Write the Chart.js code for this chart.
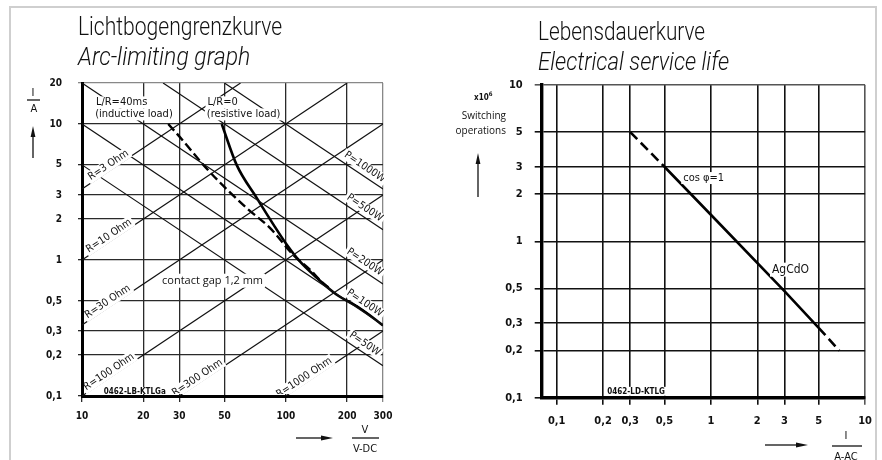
<!DOCTYPE html>
<html>
<head>
<meta charset="utf-8">
<title>Lichtbogengrenzkurve / Lebensdauerkurve</title>
<script src="https://cdn.jsdelivr.net/npm/chart.js@4.4.1/dist/chart.umd.min.js"></script>
<style>
  html, body { margin: 0; padding: 0; background: #fff; }
  #page { position: relative; width: 882px; height: 460px; overflow: hidden; color: #111;
          font-family: "DejaVu Sans Condensed", "Liberation Sans Narrow", sans-serif; }
  #frame { position: absolute; left: 9px; top: 6px; width: 868px; height: 480px;
           border: 2px solid #cfcfcf; box-sizing: border-box; }
  canvas { position: absolute; top: 0; }
  #arcChart { left: 0; }
  #lifeChart { left: 441px; }
  svg { position: absolute; left: 0; top: 0; }
  .title { position: absolute; font-family: Roboto, "Open Sans", sans-serif; font-weight: 300;
           font-size: 25px; line-height: 30px; white-space: nowrap; transform-origin: 0 0; }
  .title.it { font-style: italic; }
  .unit { position: absolute; transform: translate(-50%, -50%); white-space: nowrap; font-size: 11px; }
  .side { position: absolute; white-space: nowrap; font-family: "Open Sans", sans-serif; font-size: 10px; line-height: 12px; }
</style>
</head>
<body>
<div id="page">
  <div id="frame"></div>
  <canvas id="arcChart" width="441" height="460"></canvas>
  <canvas id="lifeChart" width="441" height="460"></canvas>

  <div class="title" data-w="204" style="left:78px; top:12px">Lichtbogengrenzkurve</div>
  <div class="title it" data-w="172" style="left:78px; top:42px">Arc-limiting graph</div>
  <div class="title" data-w="167" style="left:538px; top:17px">Lebensdauerkurve</div>
  <div class="title it" data-w="191" style="left:538px; top:47px">Electrical service life</div>

  <div class="unit" style="left:33px; top:92px">I</div>
  <div class="unit" style="left:34px; top:108px">A</div>
  <div class="unit" style="left:365px; top:429px">V</div>
  <div class="unit" style="left:365px; top:448px">V-DC</div>
  <div class="unit" style="left:846px; top:435px">I</div>
  <div class="unit" style="left:846px; top:456px">A-AC</div>

  <div class="side" style="left:474px; top:88px; font-family:'DejaVu Sans Condensed',sans-serif; font-weight:bold; font-size:8px">x10<sup style="font-size:6px">6</sup></div>
  <div class="side" style="right:376px; top:109px">Switching</div>
  <div class="side" style="right:376px; top:124px">operations</div>

  <svg width="882" height="460">
    <g stroke="#111" stroke-width="1.3" fill="#111">
      <line x1="27" y1="100" x2="40" y2="100"/>
      <line x1="33" y1="158" x2="33" y2="134"/>
      <polygon points="33,126 30.6,137 35.4,137" stroke="none"/>
      <line x1="478" y1="197" x2="478" y2="162"/>
      <polygon points="478,153 475.6,164 480.4,164" stroke="none"/>
      <line x1="352" y1="438" x2="379" y2="438"/>
      <line x1="296" y1="438" x2="322" y2="438"/>
      <polygon points="333,438 321,435.6 321,440.4" stroke="none"/>
      <line x1="832" y1="446" x2="862" y2="446"/>
      <line x1="765" y1="445" x2="797" y2="445"/>
      <polygon points="808,445 796,442.6 796,447.4" stroke="none"/>
    </g>
  </svg>
</div>

<script>
// ---- arc-limiting graph (left) ----
const voltTicks = [10, 20, 30, 50, 100, 200, 300];
const currentTicks = [0.1, 0.2, 0.3, 0.5, 1, 2, 3, 5, 10, 20];

// resistance lines: end points [V, I]
const rLabels = ['R=3 Ohm', 'R=10 Ohm', 'R=30 Ohm', 'R=100 Ohm', 'R=300 Ohm', 'R=1000 Ohm'];
const rFrom = [[10, 3.33], [10, 1], [10, 0.333], [10, 0.1], [30, 0.1], [100, 0.1]];
const rTo = [[60, 20], [200, 20], [300, 10], [300, 3], [300, 1], [300, 0.3]];
const rLabelAt = [13.9, 14, 13.8, 14, 38, 127];

// power lines
const pLabels = ['P=50W', 'P=100W', 'P=200W', 'P=500W', 'P=1000W'];
const pFrom = [[10, 5], [10, 10], [10, 20], [25, 20], [50, 20]];
const pTo = [[300, 0.167], [300, 0.333], [300, 0.667], [300, 1.667], [300, 3.33]];
const pLabelAt = [232, 232, 232, 232, 232];

// limit curves
const resistiveV = [48.5, 57.4, 72, 87, 101, 117, 142, 178, 231, 300];
const resistiveI = [10, 5, 2.86, 1.82, 1.3, 0.98, 0.74, 0.555, 0.443, 0.33];
const inductiveV = [26.5, 31.4, 39.4, 49.4, 64.4, 83.6, 108.8, 131.4, 150, 162];
const inductiveI = [10, 7.5, 5, 3.5, 2.4, 1.72, 1.09, 0.85, 0.69, 0.626];

// ---- electrical service life (right) ----
const lifeTicksX = [0.1, 0.2, 0.3, 0.5, 1, 2, 3, 5, 10];
const lifeTicksY = [0.1, 0.2, 0.3, 0.5, 1, 2, 3, 5, 10];
const lifeCurrent = [0.3, 0.5, 1, 3, 5, 6.8];
const lifeOps = [5, 3, 1.48, 0.48, 0.28, 0.2];

const condensed = '"DejaVu Sans Condensed", "Liberation Sans Narrow", sans-serif';
const fmt = v => String(v).replace('.', ',');
const toPoints = (xs, ys) => xs.map((x, i) => ({ x: x, y: ys[i] }));

// draws text on white boxes, optionally rotated along a straight line
const chartLabels = {
  id: 'chartLabels',
  afterDatasetsDraw(chart, args, opts) {
    const ctx = chart.ctx;
    const area = chart.chartArea;
    const xs = chart.scales.x, ys = chart.scales.y;
    const px = v => xs.getPixelForValue(v), py = v => ys.getPixelForValue(v);
    ctx.save();
    // keep the boxes off the thick axis lines
    ctx.beginPath();
    ctx.rect(area.left + 2, area.top, area.right - area.left - 1, area.bottom - area.top - 2);
    ctx.clip();
    for (const item of opts.items) {
      let x, y, angle = 0;
      if (item.line) {
        const a = item.line[0], b = item.line[1];
        const t = (Math.log(item.at) - Math.log(a[0])) / (Math.log(b[0]) - Math.log(a[0]));
        const i = Math.exp(Math.log(a[1]) + t * (Math.log(b[1]) - Math.log(a[1])));
        x = px(item.at);
        y = py(i);
        angle = Math.atan2(py(b[1]) - py(a[1]), px(b[0]) - px(a[0]));
      } else {
        x = px(item.at[0]);
        y = py(item.at[1]);
      }
      ctx.save();
      ctx.translate(x, y);
      ctx.rotate(angle);
      ctx.font = item.font;
      const w = ctx.measureText(item.text).width;
      const h = item.height || 12;
      const off = item.offset || 0;
      const left = item.align === 'left' ? 0 : -w / 2;
      ctx.fillStyle = '#fff';
      ctx.fillRect(left - 2, -off - h / 2, w + 4, h);
      ctx.fillStyle = '#111';
      ctx.textAlign = item.align || 'center';
      ctx.textBaseline = 'middle';
      ctx.fillText(item.text, 0, -off);
      ctx.restore();
    }
    ctx.restore();
  }
};

const lineFont = '11px ' + condensed;
const slopeFont = '10.5px ' + condensed;
const arcLabels = [];
rLabels.forEach((t, i) => arcLabels.push({ text: t, line: [rFrom[i], rTo[i]], at: rLabelAt[i], offset: 5, font: slopeFont }));
pLabels.forEach((t, i) => arcLabels.push({ text: t, line: [pFrom[i], pTo[i]], at: pLabelAt[i], offset: 8, height: 11, font: slopeFont }));
arcLabels.push(
  { text: 'L/R=40ms', at: [11.7, 14.4], align: 'left', font: lineFont },
  { text: '(inductive load)', at: [11.6, 11.75], align: 'left', font: lineFont },
  { text: 'L/R=0', at: [41.3, 14.4], align: 'left', font: lineFont },
  { text: '(resistive load)', at: [41, 11.75], align: 'left', font: lineFont },
  { text: 'contact gap 1,2 mm', at: [24.7, 0.704], align: 'left', height: 14, font: '11px "Open Sans", sans-serif' },
  { text: '0462-LB-KTLGa', at: [12.8, 0.108], align: 'left', height: 9, font: 'bold 8px ' + condensed }
);

const lineSet = (from, to) => ({
  data: [{ x: from[0], y: from[1] }, { x: to[0], y: to[1] }],
  showLine: true, borderColor: '#111', borderWidth: 1.2, pointRadius: 0
});

const arcDatasets = rFrom.map((f, i) => lineSet(f, rTo[i]))
  .concat(pFrom.map((f, i) => lineSet(f, pTo[i])));
arcDatasets.push({
  label: 'L/R=0', data: toPoints(resistiveV, resistiveI), showLine: true,
  borderColor: '#000', borderWidth: 2.6, pointRadius: 0, cubicInterpolationMode: 'monotone'
});
arcDatasets.push({
  label: 'L/R=40ms', data: toPoints(inductiveV, inductiveI), showLine: true, borderDash: [9, 4],
  borderColor: '#000', borderWidth: 2.4, pointRadius: 0, cubicInterpolationMode: 'monotone'
});

const arcTickFont = { family: condensed, size: 10, weight: 'bold' };
new Chart(document.getElementById('arcChart'), {
  type: 'scatter',
  data: { datasets: arcDatasets },
  options: {
    responsive: false,
    animation: false,
    devicePixelRatio: 1,
    layout: { padding: { left: 12, right: 58, top: 83, bottom: 34 } },
    plugins: { legend: { display: false }, tooltip: { enabled: false }, chartLabels: { items: arcLabels } },
    scales: {
      x: {
        type: 'logarithmic', min: 10, max: 300, bounds: 'data',
        afterBuildTicks: axis => { axis.ticks = voltTicks.map(v => ({ value: v })); },
        afterFit: axis => { axis.height = 30; },
        ticks: { autoSkip: false, maxRotation: 0, padding: 8, color: '#111', font: arcTickFont, callback: v => fmt(v) },
        grid: { color: c => (c.tick && c.tick.value === 300 ? '#888' : '#2a2a2a'), lineWidth: 1.3, tickLength: 6 },
        border: { color: '#000', width: 3 }
      },
      y: {
        type: 'logarithmic', min: 0.1, max: 20, bounds: 'data',
        afterBuildTicks: axis => { axis.ticks = currentTicks.map(v => ({ value: v })); },
        afterFit: axis => { axis.width = 70; },
        ticks: { autoSkip: false, padding: 16, color: '#111', font: arcTickFont, callback: v => fmt(v) },
        grid: { color: c => (c.tick && c.tick.value === 20 ? '#888' : '#2a2a2a'), lineWidth: 1.3, tickLength: 4 },
        border: { color: '#000', width: 3 }
      }
    }
  },
  plugins: [chartLabels]
});

const lifeLabels = [
  { text: 'cos \u03C6=1', at: [0.662, 2.54], align: 'left', font: lineFont },
  { text: 'AgCdO', at: [2.49, 0.659], align: 'left', height: 14, font: '12px ' + condensed },
  { text: '0462-LD-KTLG', at: [0.213, 0.109], align: 'left', height: 10, font: 'bold 8px ' + condensed }
];

const lastSeg = lifeCurrent.length - 1;
const lifeTickFont = { family: condensed, size: 11, weight: 'bold' };
new Chart(document.getElementById('lifeChart'), {
  type: 'scatter',
  data: {
    datasets: [{
      label: 'AgCdO', data: toPoints(lifeCurrent, lifeOps), showLine: true,
      borderColor: '#000', borderWidth: 2.6, pointRadius: 0,
      segment: { borderDash: c => (c.p0DataIndex === 0 || c.p1DataIndex === lastSeg ? [10, 5] : undefined) }
    }]
  },
  options: {
    responsive: false,
    animation: false,
    devicePixelRatio: 1,
    layout: { padding: { left: 10.7, right: 12.7, top: 85, bottom: 32.3 } },
    plugins: { legend: { display: false }, tooltip: { enabled: false }, chartLabels: { items: lifeLabels } },
    scales: {
      x: {
        type: 'logarithmic', min: 0.08, max: 10, bounds: 'data',
        afterBuildTicks: axis => { axis.ticks = lifeTicksX.map(v => ({ value: v })); },
        afterFit: axis => { axis.height = 30; },
        ticks: { autoSkip: false, maxRotation: 0, padding: 10, color: '#111', font: lifeTickFont, callback: v => fmt(v) },
        grid: { color: c => (c.tick && c.tick.value === 10 ? '#555' : '#111'), lineWidth: 1.6, tickLength: 7 },
        border: { color: '#000', width: 3.4 }
      },
      y: {
        type: 'logarithmic', min: 0.1, max: 10, bounds: 'data',
        afterBuildTicks: axis => { axis.ticks = lifeTicksY.map(v => ({ value: v })); },
        afterFit: axis => { axis.width = 90; },
        ticks: { autoSkip: false, padding: 12, color: '#111', font: lifeTickFont, callback: v => fmt(v) },
        grid: { color: c => (c.tick && c.tick.value === 10 ? '#555' : '#111'), lineWidth: 1.6, tickLength: 7 },
        border: { color: '#000', width: 3.4 }
      }
    }
  },
  plugins: [chartLabels]
});

// squeeze the titles to the width they have in the original
function fitTitles() {
  document.querySelectorAll('.title').forEach(el => {
    el.style.transform = 'none';
    el.style.transform = 'scaleX(' + (Number(el.dataset.w) / el.offsetWidth) + ')';
  });
}
fitTitles();
if (document.fonts) document.fonts.ready.then(fitTitles);
</script>
</body>
</html>
